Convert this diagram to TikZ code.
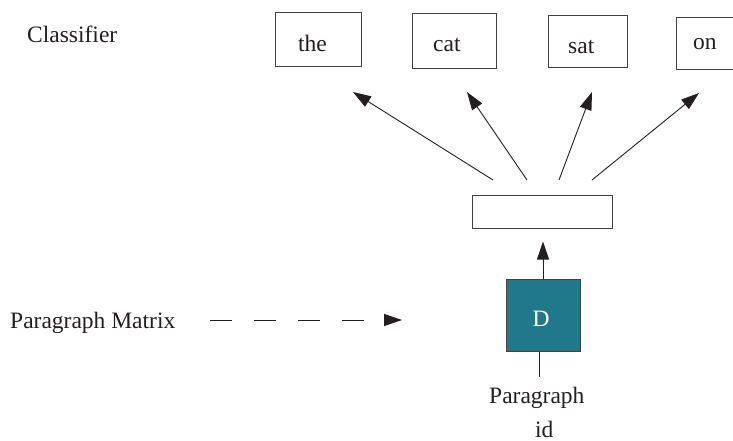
\documentclass[tikz,border=0pt]{standalone}
\usepackage{fontspec}
\setmainfont{Liberation Serif}
\usetikzlibrary{arrows.meta}
\definecolor{ink}{HTML}{231F20}
\definecolor{teal}{HTML}{20798A}
\begin{document}
\begin{tikzpicture}[x=1pt,y=-1pt,
  txt/.style={inner sep=0pt,anchor=base west,text=ink,font=\fontsize{23.5}{26}\selectfont},
  wbox/.style={draw=ink!85,line width=1pt,fill=white,inner sep=0pt},
  arr/.style={draw=ink,line width=0.9pt,-{Triangle[length=18pt,width=12pt]}},
  line/.style={draw=ink,line width=0.9pt}]
\useasboundingbox (0,0) rectangle (733,441);
% word boxes
\node[wbox,minimum width=86pt,minimum height=54pt] (bthe) at (318,40) {};
\node[wbox,minimum width=84pt,minimum height=55pt] (bcat) at (454,41.5) {};
\node[wbox,minimum width=79pt,minimum height=52pt] (bsat) at (587.5,42) {};
\node[wbox,minimum width=72pt,minimum height=52pt] (bon) at (712,44) {};
\node[txt] (tthe) at (298,52) {the};
\node[txt] (tcat) at (433,52) {cat};
\node[txt] (tsat) at (568,54) {sat};
\node[txt] (ton) at (693,50) {on};
\node[txt] (cls) at (27,43) {Classifier};
% hidden layer box
\node[wbox,minimum width=140pt,minimum height=33pt] (hid) at (542,211.5) {};
% arrow endpoints
\coordinate (s1) at (493,180);
\coordinate (s2) at (527,180);
\coordinate (s3) at (559,180);
\coordinate (s4) at (592,180);
\coordinate (e1) at (353,92);
\coordinate (e2) at (467,92);
\coordinate (e3) at (592,92);
\coordinate (e4) at (699,93);
\draw[arr] (s1) -- (e1);
\draw[arr] (s2) -- (e2);
\draw[arr] (s3) -- (e3);
\draw[arr] (s4) -- (e4);
% D box
\node[draw=ink!85,line width=1pt,fill=teal,minimum width=74pt,minimum height=72pt,inner sep=0pt] (D) at (543,315) {};
\node[txt,text=white] (tD) at (532.5,326) {D};
\draw[arr] (D.north) -- ++(0,-37);
\coordinate (lineend) at (539,377);
\draw[line] (D.south -| lineend) -- (lineend);
\node[txt] (pid) at (489,403) {Paragraph};
\node[txt] (pid2) at (535,437) {id};
% paragraph matrix
\node[txt] (pm) at (10,328) {Paragraph Matrix};
\coordinate (ds) at (210,320);
\coordinate (de) at (402,320);
\draw[draw=ink,line width=0.9pt,dash pattern=on 22pt off 22pt,-{Triangle[length=18pt,width=12pt]}] (ds) -- (de);
\end{tikzpicture}
\end{document}
